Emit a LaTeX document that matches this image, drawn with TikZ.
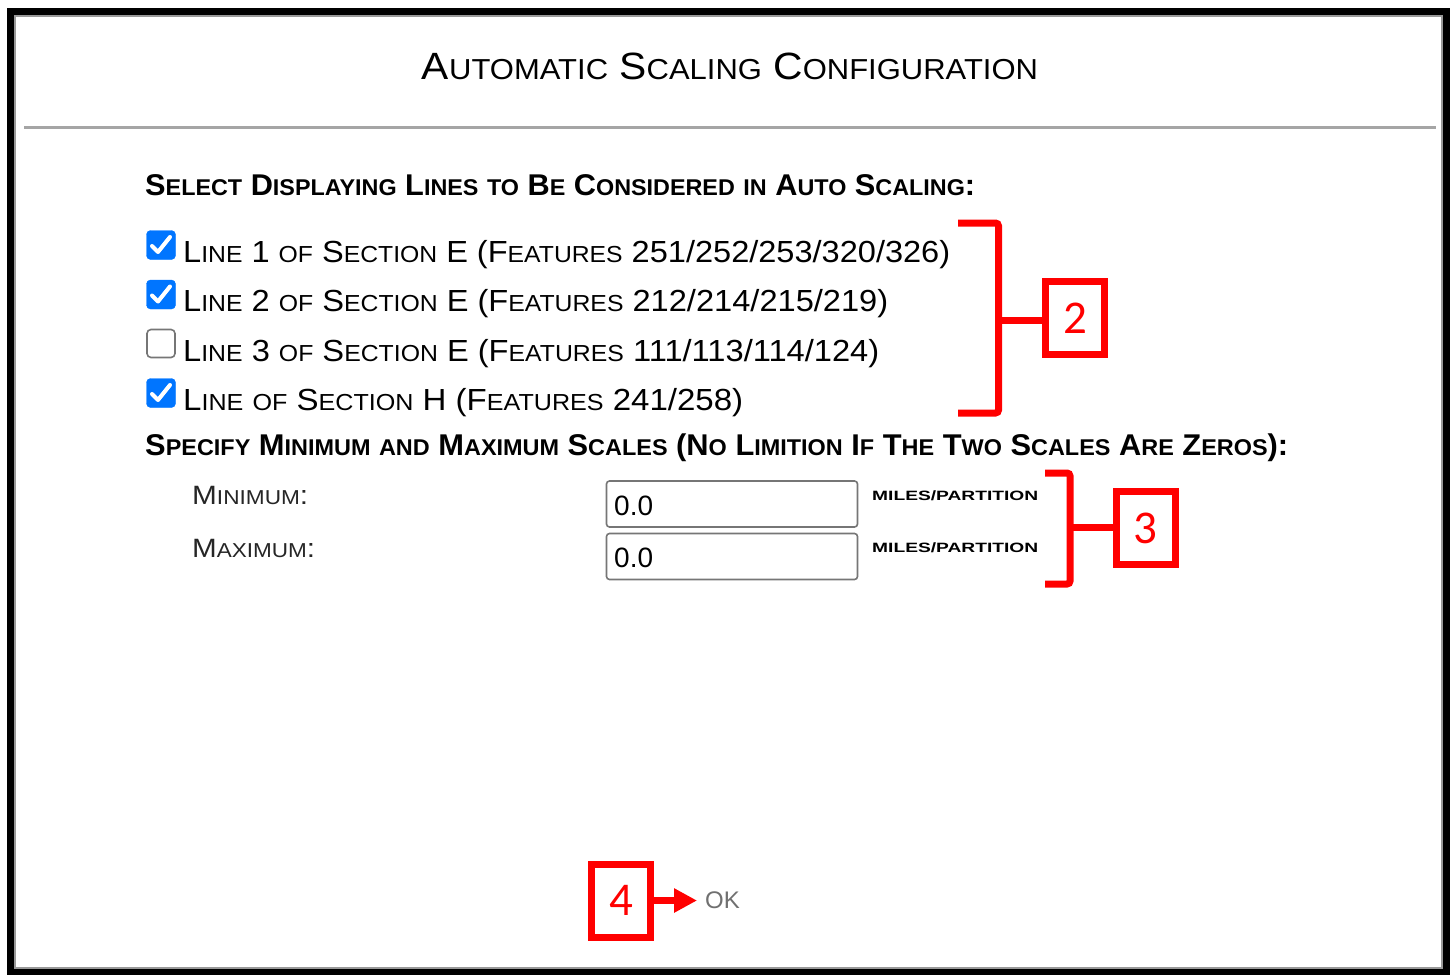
\documentclass[tikz,border=0pt]{standalone}
\usepackage{fontspec}
\usepackage{graphicx}
\setmainfont{Liberation Sans}
\newfontfamily\numfont{Carlito}
\usetikzlibrary{arrows.meta}
\makeatletter
\newdimen\lcdim
% reduced capitals for the lower-case part of a small-caps word
\newcommand\lc[1]{{\lcdim=\f@size pt\lcdim=0.76\lcdim\fontsize{\strip@pt\lcdim}{\strip@pt\lcdim}\selectfont\uppercase{#1}}}
\makeatother
% set a line of text to a given width, keeping its height
\newcommand\fitw[2]{\resizebox{#1pt}{\height}{#2}}
\definecolor{markred}{RGB}{255,0,0}
\definecolor{tickblue}{RGB}{0,117,255}
\definecolor{rulegray}{RGB}{165,165,165}
\definecolor{fieldgray}{RGB}{118,118,118}
\definecolor{okgray}{RGB}{112,112,112}
\tikzset{
  frame/.style={draw=black, line width=7pt},
  frameshade/.style={draw=black!40, line width=2pt},
  sep/.style={draw=rulegray, line width=3pt},
  txt/.style={inner sep=0pt, anchor=base west},
  chkon/.style={fill=tickblue, draw=tickblue, rounded corners=4pt, minimum size=29pt, inner sep=0pt},
  chkoff/.style={fill=white, draw=fieldgray, line width=1.6pt, rounded corners=4pt, minimum size=28pt, inner sep=0pt},
  tick/.style={draw=white, line width=4pt, line cap=round, line join=round},
  field/.style={draw=fieldgray, line width=1.6pt, rounded corners=3pt, minimum width=251pt, minimum height=46pt, inner sep=0pt},
  redbox/.style={draw=markred, line width=7pt, minimum width=59pt, minimum height=73pt, inner sep=0pt,
    text=markred, font=\numfont\fontsize{47}{50}\selectfont},
  bracket/.style={draw=markred, line width=7pt, rounded corners=3pt},
  stub/.style={draw=markred, line width=7pt},
  arr/.style={draw=markred, line width=7pt, -{Triangle[length=23pt,width=23pt]}},
}
\begin{document}
\begin{tikzpicture}[x=1pt, y=-1pt]
\useasboundingbox (0,0) rectangle (1455,974);
\fill[white] (0,0) rectangle (1455,974);

% window frame and title rule
\draw[frameshade] (15,16.5) rectangle (1442,967.5);
\draw[frame] (10.5,12) rectangle (1446.5,972);
\draw[sep] (24,127) -- (1436,127);

% title
\node[inner sep=0pt, anchor=base] (title) at (730,79)
  {\fontsize{38}{44}\selectfont\fitw{616}{A\lc{utomatic} S\lc{caling} C\lc{onfiguration}}};

% first heading and the check list
\node[txt] (h1) at (145,195)
  {\fontsize{30}{36}\selectfont\bfseries\fitw{830}{S\lc{elect} D\lc{isplaying} L\lc{ines} \lc{to} B\lc{e} C\lc{onsidered} \lc{in} A\lc{uto} S\lc{caling}:}};

\node[chkon] (c1) at (161,245) {};
\node[chkon] (c2) at (161,294.5) {};
\node[chkoff] (c3) at (161,343.5) {};
\node[chkon] (c4) at (161,393) {};
\foreach \c in {c1,c2,c4}
  \draw[tick] ([shift={(-9,1)}]\c.center) -- ([shift={(-3,7)}]\c.center) -- ([shift={(9,-8)}]\c.center);

\node[txt] (l1) at (183,262)
  {\fontsize{30.5}{36}\selectfont\fitw{767}{L\lc{ine} 1 \lc{of} S\lc{ection} E (F\lc{eatures} 251/252/253/320/326)}};
\node[txt] (l2) at (183,311)
  {\fontsize{30.5}{36}\selectfont\fitw{705}{L\lc{ine} 2 \lc{of} S\lc{ection} E (F\lc{eatures} 212/214/215/219)}};
\node[txt] (l3) at (183,361)
  {\fontsize{30.5}{36}\selectfont\fitw{696}{L\lc{ine} 3 \lc{of} S\lc{ection} E (F\lc{eatures} 111/113/114/124)}};
\node[txt] (l4) at (183,410)
  {\fontsize{30.5}{36}\selectfont\fitw{560}{L\lc{ine} \lc{of} S\lc{ection} H (F\lc{eatures} 241/258)}};

% second heading and the scale fields
\node[txt] (h2) at (145,455)
  {\fontsize{30}{36}\selectfont\bfseries\fitw{1143}{S\lc{pecify} M\lc{inimum} \lc{and} M\lc{aximum} S\lc{cales} (N\lc{o} L\lc{imition} I\lc{f} T\lc{he} T\lc{wo} S\lc{cales} A\lc{re} Z\lc{eros}):}};

\node[txt, text=black!85] (lmin) at (192,504)
  {\fontsize{26.5}{30}\selectfont\fitw{116}{M\lc{inimum}:}};
\node[txt, text=black!85] (lmax) at (192,557)
  {\fontsize{26.5}{30}\selectfont\fitw{123}{M\lc{aximum}:}};

\node[field] (fmin) at (732,504) {};
\node[field] (fmax) at (732,556.5) {};
\node[txt] (vmin) at (614,515) {\fontsize{28}{32}\selectfont 0.0};
\node[txt] (vmax) at (614,567) {\fontsize{28}{32}\selectfont 0.0};

\node[txt] (umin) at (872,500)
  {\fontsize{13.5}{16}\selectfont\bfseries\fitw{166}{MILES/PARTITION}};
\node[txt] (umax) at (872,552)
  {\fontsize{13.5}{16}\selectfont\bfseries\fitw{166}{MILES/PARTITION}};

% OK button
\node[txt, text=okgray] (ok) at (705,908) {\fontsize{24}{28}\selectfont OK};

% callout 2
\node[redbox] (n2) at (1075,318) {2};
\draw[bracket] (958,223) -- (998.5,223) -- (998.5,413) -- (958,413);
\coordinate (b2) at (998.5,320);
\draw[stub] (b2) -- (b2 -| n2.west);

% callout 3
\node[redbox] (n3) at (1145.5,528) {3};
\draw[bracket] (1045,473) -- (1070,473) -- (1070,584) -- (1045,584);
\coordinate (b3) at (1070,527);
\draw[stub] (b3) -- (b3 -| n3.west);

% callout 4
\node[redbox] (n4) at (621,900.5) {4};
\coordinate (okt) at (697,900.5);
\draw[arr] (n4) -- (okt);
\end{tikzpicture}
\end{document}
